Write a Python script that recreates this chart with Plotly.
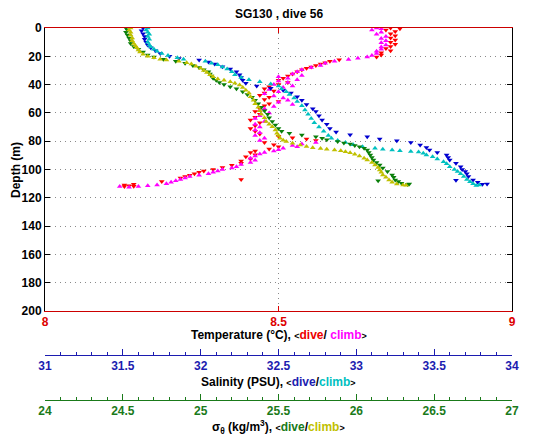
import plotly.graph_objects as go

# ---------------- data ----------------
# Temperature, dive (red)
temp_dive_depth = [0, 0.5, 1.5, 2.5, 4, 5.5, 7, 8.5, 10, 11.5, 13, 14.5, 16, 17.5, 19, 20.5, 22.5, 23.5, 24.5, 25.5,
                   26.5, 27.5, 28.5, 29.5, 31, 32.5, 34, 35.5, 37, 38.5, 40, 41.5, 43, 44.5, 46, 47.5, 49, 50.5, 52,
                   53.5, 55, 57, 59, 61, 63, 65, 67, 69, 71, 73, 75, 76.5, 77.5, 78.5, 79.5, 81, 82.5, 84, 85.5, 87,
                   88, 89.5, 91, 92.5, 94, 95.5, 97, 98.5, 100, 101, 102, 103, 104, 105, 106, 107, 108.5, 110.5, 111,
                   111.5, 112, 111.8]
temp_dive = [8.74, 8.76, 8.73, 8.75, 8.74, 8.75, 8.74, 8.75, 8.74, 8.75, 8.74, 8.73, 8.74, 8.72, 8.72, 8.71, 8.63,
             8.61, 8.60, 8.59, 8.58, 8.57, 8.56, 8.55, 8.54, 8.53, 8.52, 8.51, 8.50, 8.52, 8.50, 8.48, 8.47, 8.49,
             8.47, 8.46, 8.48, 8.47, 8.50, 8.48, 8.47, 8.46, 8.45, 8.46, 8.45, 8.44, 8.46, 8.45, 8.44, 8.45, 8.46,
             8.50, 8.53, 8.56, 8.58, 8.47, 8.49, 8.50, 8.48, 8.45, 8.44, 8.45, 8.43, 8.44, 8.42, 8.42, 8.40, 8.38,
             8.36, 8.34, 8.33, 8.32, 8.31, 8.30, 8.29, 8.42, 8.25, 8.19, 8.17, 8.18, 8.17, 8.19]

# Temperature, climb (magenta)
temp_climb_depth = [0, 0.5, 1.5, 3, 4.5, 6, 7.5, 9, 10.5, 12, 13.5, 15, 16.5, 18, 19.5, 20.5, 21.4, 22.3, 23.5, 25,
                    26.5, 28, 29.5, 31, 32.5, 33.5, 34.5, 35.5, 36.5, 37.5, 38.5, 40, 41, 42, 43.5, 45, 46.5, 48,
                    49.5, 51, 52.5, 54, 55.5, 57, 58.5, 60, 62, 64, 66, 68, 70, 72, 74, 76, 78, 79.5, 81, 82, 83,
                    84, 85, 86, 87, 88, 89, 90.5, 92, 93.5, 95, 96.5, 98, 99, 100, 101, 102, 103, 104, 105, 106,
                    107, 108, 109, 110, 111, 111.5, 112, 112.5, 112]
temp_climb = [8.71, 8.72, 8.70, 8.72, 8.71, 8.73, 8.72, 8.73, 8.72, 8.73, 8.72, 8.72, 8.71, 8.71, 8.70, 8.69, 8.67,
              8.65, 8.62, 8.60, 8.59, 8.57, 8.55, 8.54, 8.53, 8.55, 8.50, 8.52, 8.54, 8.50, 8.52, 8.49, 8.53, 8.51,
              8.48, 8.50, 8.47, 8.49, 8.51, 8.52, 8.50, 8.53, 8.49, 8.47, 8.46, 8.48, 8.46, 8.45, 8.47, 8.45, 8.46,
              8.45, 8.46, 8.45, 8.47, 8.46, 8.58, 8.55, 8.53, 8.54, 8.51, 8.50, 8.49, 8.47, 8.46, 8.45, 8.44, 8.45,
              8.44, 8.42, 8.41, 8.40, 8.38, 8.37, 8.36, 8.35, 8.33, 8.31, 8.30, 8.29, 8.28, 8.27, 8.26, 8.24, 8.22,
              8.20, 8.18, 8.16]

# Salinity, dive (blue)
sal_dive_depth = [0, 2, 4, 6, 8, 10, 12, 14, 16, 18, 20, 21.5, 22.6, 24, 25.5, 27.3, 29, 31, 33, 35, 37, 39, 41,
                  42.5, 44, 46, 48.5, 51, 54, 57, 59, 62, 65, 68, 71, 73.5, 75.5, 76.8, 78.5, 79.6, 81, 82.7, 84.5,
                  86.2, 88, 89.8, 91.5, 93.3, 95.6, 98, 100, 101.5, 103, 105, 107.4, 109, 110.2, 110.5, 107.6]
sal_dive = [31.63, 31.62, 31.63, 31.64, 31.64, 31.65, 31.66, 31.68, 31.71, 31.74, 31.80, 31.86, 31.99, 32.05, 32.09,
            32.14, 32.19, 32.23, 32.25, 32.26, 32.27, 32.29, 32.36, 32.45, 32.53, 32.58, 32.62, 32.65, 32.68, 32.72,
            32.74, 32.76, 32.78, 32.81, 32.83, 32.87, 32.96, 33.07, 33.15, 33.26, 33.35, 33.41, 33.45, 33.47, 33.52,
            33.58, 33.59, 33.60, 33.64, 33.67, 33.68, 33.70, 33.71, 33.72, 33.75, 33.78, 33.84, 33.81, 33.64]

# Salinity, climb (cyan)
sal_climb_depth = [0, 1.5, 3, 4.5, 6, 8, 10, 12, 13.5, 15, 16.5, 18, 19.5, 21, 22, 23.5, 25, 26, 27.5, 29, 31, 33,
                   35, 36.5, 38, 39.5, 41, 43, 45, 47, 49.5, 52, 55, 58, 61, 64, 67, 70, 73, 76, 78, 79.5, 81, 82.5,
                   84, 85, 85.7, 86.2, 86.7, 87.2, 87.6, 88.5, 89.8, 91, 92.5, 94.5, 96, 98, 100, 101.5, 103, 105,
                   107, 108.6, 110, 111, 111.3]
sal_climb = [31.66, 31.65, 31.66, 31.67, 31.66, 31.67, 31.66, 31.67, 31.68, 31.70, 31.72, 31.75, 31.79, 31.85, 31.89,
             32.03, 32.07, 32.11, 32.14, 32.17, 32.20, 32.22, 32.26, 32.31, 32.38, 32.45, 32.50, 32.52, 32.55, 32.57,
             32.60, 32.62, 32.65, 32.67, 32.69, 32.71, 32.73, 32.76, 32.79, 32.82, 32.84, 32.88, 32.93, 32.98, 33.04,
             33.12, 33.17, 33.23, 33.28, 33.35, 33.40, 33.43, 33.45, 33.49, 33.52, 33.56, 33.58, 33.60, 33.63, 33.65,
             33.67, 33.69, 33.71, 33.73, 33.75, 33.79, 33.77]

# Sigma-theta, dive (green)
sig_dive_depth = [0, 1.5, 3, 5, 7, 9, 11, 13, 15, 17, 19, 20.5, 22, 23.5, 25, 26.5, 28, 29.5, 31, 32.5, 34, 35.5,
                  37, 38.5, 40, 41.5, 43, 45, 47, 49, 51, 53.5, 56, 58.5, 61, 63.5, 66, 68.5, 71, 73, 74.4, 75.6,
                  76.8, 78, 79, 80.3, 81.2, 82, 83, 84, 85, 86.2, 88, 89.8, 91.5, 93.3, 95, 96.8, 99, 101.5, 103.9,
                  105.5, 107.4, 108.5, 109.8, 110.2, 110.6, 108]
sig_dive = [24.52, 24.53, 24.52, 24.53, 24.54, 24.55, 24.55, 24.57, 24.60, 24.63, 24.66, 24.70, 24.76, 24.84, 24.90,
            24.95, 24.99, 25.02, 25.05, 25.06, 25.07, 25.08, 25.10, 25.12, 25.15, 25.19, 25.23, 25.27, 25.30, 25.33,
            25.35, 25.37, 25.39, 25.41, 25.43, 25.44, 25.46, 25.48, 25.50, 25.52, 25.57, 25.65, 25.74, 25.78, 25.81,
            25.88, 25.92, 25.96, 25.99, 26.02, 26.05, 26.07, 26.08, 26.09, 26.10, 26.11, 26.13, 26.15, 26.17, 26.20,
            26.23, 26.24, 26.25, 26.27, 26.29, 26.34, 26.33, 26.14]

# Sigma-theta, climb (yellow)
sig_climb_depth = [0, 1.5, 3, 5, 7, 9, 11, 12.5, 14, 15.5, 17, 18.5, 20, 21, 22, 22.6, 23.5, 24.5, 25.5, 27, 28.5,
                   30, 31.5, 33, 34.5, 36, 37, 38, 39, 40.3, 42, 44, 46, 48.5, 51, 53.5, 56, 58.5, 61, 63.5, 66, 68,
                   69.7, 72, 74.4, 76, 78, 79.3, 80.3, 81.5, 82.7, 83.7, 84.6, 85.2, 85.7, 86.2, 86.7, 87.4, 88.1,
                   89.3, 90.5, 92, 93.3, 95, 96.8, 98.5, 100.4, 102, 103.9, 105.5, 107.4, 109, 110.2, 111, 111.2]
sig_climb = [24.55, 24.54, 24.55, 24.55, 24.56, 24.56, 24.57, 24.58, 24.59, 24.60, 24.61, 24.63, 24.66, 24.70, 24.74,
             24.78, 24.86, 24.91, 24.94, 24.97, 25.00, 25.02, 25.04, 25.06, 25.08, 25.11, 25.15, 25.19, 25.22, 25.25,
             25.27, 25.29, 25.31, 25.32, 25.34, 25.35, 25.37, 25.38, 25.39, 25.41, 25.42, 25.44, 25.46, 25.48, 25.49,
             25.50, 25.51, 25.53, 25.55, 25.59, 25.64, 25.68, 25.72, 25.77, 25.81, 25.86, 25.90, 25.93, 25.96, 25.99,
             26.02, 26.05, 26.07, 26.10, 26.12, 26.14, 26.15, 26.16, 26.17, 26.19, 26.21, 26.23, 26.26, 26.30, 26.32]

temp_ticks = [8, 8.5, 9]
temp_ticklabels = ["8", "8.5", "9"]
depth_ticks = list(range(0, 201, 20))

# ---------------- figure ----------------
FONT = "Liberation Sans, Arial, Helvetica, sans-serif"
RED, MAG = "#ff0000", "#ff00ff"
BLUE, CYAN = "#0000d0", "#00c0c0"
GREEN, YEL = "#0a7f0a", "#c0c000"
GRID = dict(showgrid=True, gridcolor="#8a8a8a", griddash="1px,4px", gridwidth=1)

fig = go.Figure()

def add(x, y, color, symbol, axis):
    fig.add_trace(go.Scatter(x=x, y=y, mode="markers", xaxis=axis, yaxis="y",
                             marker=dict(color=color, symbol=symbol, size=5, line=dict(width=0)),
                             showlegend=False, hoverinfo="skip"))

add(temp_dive, temp_dive_depth, RED, "triangle-down", "x")
add(temp_climb, temp_climb_depth, MAG, "triangle-up", "x")
add(sal_dive, sal_dive_depth, BLUE, "triangle-down", "x2")
add(sal_climb, sal_climb_depth, CYAN, "triangle-up", "x2")
add(sig_dive, sig_dive_depth, GREEN, "triangle-down", "x3")
add(sig_climb, sig_climb_depth, YEL, "triangle-up", "x3")

# page has an 8px body margin; figure sized so that it ends at the window edge
OFF = 8
H = 442
PAPER_TOP = 28          # page px
PH = H - PAPER_TOP      # paper height in px (bottom margin 0)
def py(ypx):
    return (H - ypx) / PH

bold = dict(family=FONT, size=12, weight="bold")

fig.update_layout(
    width=535 - OFF, height=442 - OFF,
    margin=dict(l=45 - OFF, r=23, t=PAPER_TOP - OFF, b=0, autoexpand=False),
    paper_bgcolor="white", plot_bgcolor="white",
    showlegend=False,
    xaxis=dict(domain=[0, 1], range=[8, 9], tickvals=temp_ticks, ticktext=temp_ticklabels,
               ticks="inside", ticklen=5, tickcolor="#dd0000", tickwidth=1,
               showline=True, linecolor="#cc0000", linewidth=1, mirror="ticks",
               zeroline=False, anchor="y",
               tickfont=dict(family=FONT, size=12, color="#dd0000", weight="bold"), **GRID),
    yaxis=dict(domain=[py(311), 1], range=[200, 0], tickvals=depth_ticks,
               ticks="inside", ticklen=5, tickcolor="black",
               showline=True, linecolor="black", linewidth=1, mirror="ticks",
               zeroline=False, tickfont=dict(bold, color="black"), **GRID),
    xaxis2=dict(overlaying="x", anchor="free", position=py(355), range=[31, 34], dtick=0.5,
                ticks="inside", ticklen=6, tickcolor="#1c1cb0",
                minor=dict(dtick=0.1, ticks="inside", ticklen=3, tickcolor="#1c1cb0", showgrid=False),
                showline=True, linecolor="#1c1cb0", linewidth=1, showgrid=False, zeroline=False,
                tickfont=dict(family=FONT, size=12, color="#1c1cb0", weight="bold")),
    xaxis3=dict(overlaying="x", anchor="free", position=py(400), range=[24, 27], dtick=0.5,
                ticks="inside", ticklen=6, tickcolor="#1a7a1a",
                minor=dict(dtick=0.1, ticks="inside", ticklen=3, tickcolor="#1a7a1a", showgrid=False),
                showline=True, linecolor="#1a7a1a", linewidth=1, showgrid=False, zeroline=False,
                tickfont=dict(family=FONT, size=12, color="#1a7a1a", weight="bold")),
)

ann_font = dict(family=FONT, size=12, color="black", weight="bold")
def ann(x, y, text, **kw):
    fig.add_annotation(x=x, y=y, xref="paper", yref="paper", showarrow=False, text=text,
                       font=ann_font, xanchor="center", yanchor="middle", **kw)

ann(0.5, py(14), "SG130 , dive 56")
ann(0.5, py(335), "Temperature (°C), <span style='font-size:9px'>&lt;</span>"
                  "<span style='color:#ee0000'>dive</span>/ <span style='color:#ff00ff'>climb</span>"
                  "<span style='font-size:9px'>&gt;</span>")
ann(0.5, py(382), "Salinity (PSU), <span style='font-size:9px'>&lt;</span>"
                  "<span style='color:#1c1cb0'>dive</span>/<span style='color:#00c0c0'>climb</span>"
                  "<span style='font-size:9px'>&gt;</span>")
ann(0.5, py(427), "σ<sub>θ</sub> (kg/m<sup>3</sup>), <span style='font-size:9px'>&lt;</span>"
                  "<span style='color:#1a7a1a'>dive</span>/<span style='color:#c0c000'>climb</span>"
                  "<span style='font-size:9px'>&gt;</span>")
ann((16 - 45) / 467, py(170), "Depth (m)", textangle=-90)

fig.write_html("out.html")
